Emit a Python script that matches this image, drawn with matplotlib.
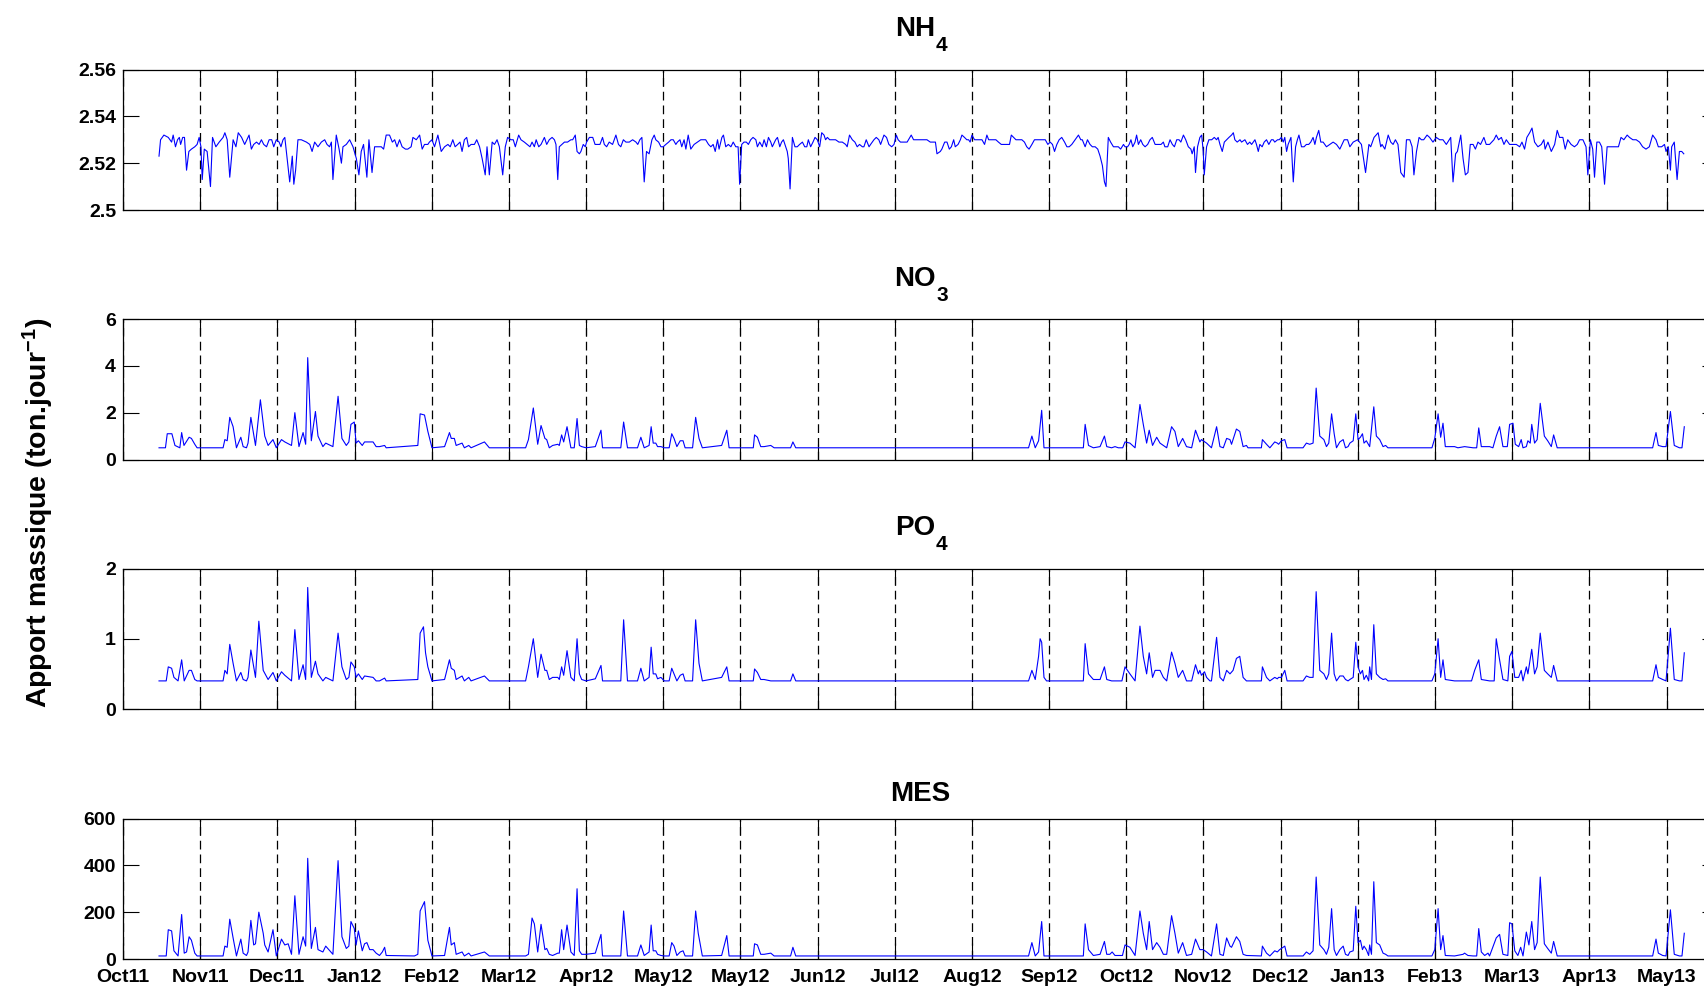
import numpy as np
import matplotlib
matplotlib.use('Agg')
import matplotlib.pyplot as plt
import matplotlib.dates as mdates
import matplotlib.ticker as mticker
from datetime import datetime

# jours comptés depuis le 04/10/2011, valeurs en ton/jour
nh4_pts = [
    (14.0, 2.523), (14.6, 2.530), (15.9, 2.532), (17.6, 2.531), (18.9, 2.529), (19.5, 2.532), (20.4, 2.527),
    (21.2, 2.530), (21.9, 2.531), (22.4, 2.528), (23.2, 2.531), (23.9, 2.531), (24.7, 2.517), (25.6, 2.525),
    (26.6, 2.526), (27.9, 2.527), (28.8, 2.528), (29.6, 2.531), (30.3, 2.527), (30.8, 2.513), (31.6, 2.526),
    (32.7, 2.525), (34.0, 2.510), (34.8, 2.531), (36.1, 2.527), (37.4, 2.529), (38.9, 2.531), (39.6, 2.533),
    (40.5, 2.530), (41.5, 2.514), (42.8, 2.530), (43.9, 2.527), (44.8, 2.533), (46.1, 2.531), (47.3, 2.528),
    (49.0, 2.532), (49.9, 2.526), (50.8, 2.528), (51.9, 2.529), (52.9, 2.528), (53.8, 2.530), (54.7, 2.528),
    (55.8, 2.527), (56.8, 2.530), (57.8, 2.530), (58.6, 2.527), (59.6, 2.530), (60.7, 2.529), (61.4, 2.527),
    (62.2, 2.530), (62.9, 2.531), (63.8, 2.522), (64.8, 2.512), (65.8, 2.523), (66.4, 2.511), (67.1, 2.517),
    (68.0, 2.530), (69.3, 2.530), (71.3, 2.529), (72.6, 2.528), (73.5, 2.525), (74.5, 2.529), (75.8, 2.527),
    (77.1, 2.529), (78.4, 2.530), (79.3, 2.528), (80.3, 2.527), (81.0, 2.529), (81.6, 2.513), (82.9, 2.532),
    (84.0, 2.526), (84.9, 2.520), (85.5, 2.527), (86.8, 2.528), (88.1, 2.530), (89.4, 2.527), (90.7, 2.522),
    (91.7, 2.515), (92.6, 2.525), (93.5, 2.528), (94.8, 2.514), (95.6, 2.530), (96.8, 2.516), (97.8, 2.527),
    (99.1, 2.527), (100.4, 2.527), (101.3, 2.526), (102.3, 2.532), (103.6, 2.532), (104.7, 2.529), (105.6, 2.530),
    (106.5, 2.527), (107.5, 2.530), (108.5, 2.527), (109.8, 2.526), (110.7, 2.526), (112.0, 2.527), (112.7, 2.531),
    (114.0, 2.530), (115.3, 2.532), (116.3, 2.526), (117.2, 2.528), (118.5, 2.528), (119.1, 2.529), (120.1, 2.530),
    (121.1, 2.527), (122.4, 2.532), (123.7, 2.525), (125.0, 2.527), (126.3, 2.528), (127.2, 2.527), (128.2, 2.530),
    (129.1, 2.527), (130.1, 2.528), (131.0, 2.529), (131.8, 2.525), (132.7, 2.530), (133.6, 2.531), (134.3, 2.527),
    (135.3, 2.528), (136.6, 2.528), (137.5, 2.530), (138.6, 2.527), (139.6, 2.522), (140.8, 2.515), (141.5, 2.527),
    (142.4, 2.515), (143.5, 2.529), (144.4, 2.528), (145.4, 2.530), (146.3, 2.527), (147.6, 2.515), (148.6, 2.527),
    (149.5, 2.531), (150.8, 2.530), (151.7, 2.530), (152.5, 2.527), (153.8, 2.532), (154.7, 2.530), (156.0, 2.529),
    (158.2, 2.527), (159.0, 2.529), (159.9, 2.527), (160.6, 2.530), (161.6, 2.527), (162.5, 2.528), (163.8, 2.531),
    (164.7, 2.528), (165.7, 2.530), (166.8, 2.531), (167.7, 2.530), (168.3, 2.528), (169.0, 2.513), (169.6, 2.527),
    (170.6, 2.528), (171.6, 2.529), (172.8, 2.529), (174.1, 2.530), (174.8, 2.530), (175.8, 2.532), (176.5, 2.525),
    (177.4, 2.524), (178.0, 2.525), (178.9, 2.528), (179.7, 2.527), (180.2, 2.529), (181.3, 2.531), (182.6, 2.531),
    (183.5, 2.528), (184.5, 2.528), (185.4, 2.528), (186.4, 2.531), (187.1, 2.528), (188.0, 2.527), (189.0, 2.529),
    (190.3, 2.528), (191.6, 2.532), (192.6, 2.528), (193.5, 2.527), (194.5, 2.530), (195.5, 2.529), (196.8, 2.529),
    (198.1, 2.530), (199.4, 2.529), (200.1, 2.528), (200.9, 2.530), (201.7, 2.531), (202.6, 2.512), (203.5, 2.525),
    (204.5, 2.524), (205.6, 2.530), (206.5, 2.532), (207.1, 2.530), (208.2, 2.529), (209.1, 2.527), (210.0, 2.527),
    (211.0, 2.528), (212.1, 2.529), (213.0, 2.530), (213.9, 2.530), (214.9, 2.528), (215.5, 2.529), (216.5, 2.530),
    (217.2, 2.527), (218.1, 2.530), (218.8, 2.526), (219.7, 2.532), (220.7, 2.526), (222.0, 2.528), (223.3, 2.529),
    (224.6, 2.530), (225.6, 2.530), (226.5, 2.530), (227.6, 2.528), (228.5, 2.527), (229.4, 2.528), (230.2, 2.525),
    (231.1, 2.530), (231.7, 2.526), (232.8, 2.531), (233.4, 2.532), (234.3, 2.527), (235.3, 2.528), (236.3, 2.527),
    (237.2, 2.529), (238.2, 2.527), (239.1, 2.527), (239.7, 2.511), (240.5, 2.528), (241.4, 2.529), (242.3, 2.529),
    (243.1, 2.528), (244.0, 2.530), (244.9, 2.531), (246.0, 2.530), (246.6, 2.527), (247.5, 2.529), (248.5, 2.527),
    (249.2, 2.530), (250.1, 2.527), (250.9, 2.531), (251.8, 2.529), (252.4, 2.527), (253.7, 2.530), (254.4, 2.531),
    (255.3, 2.527), (256.0, 2.529), (256.7, 2.530), (257.6, 2.527), (258.2, 2.525), (258.6, 2.522), (259.3, 2.509),
    (260.2, 2.531), (261.2, 2.527), (262.1, 2.527), (263.0, 2.528), (264.1, 2.529), (265.0, 2.527), (265.8, 2.527),
    (266.4, 2.530), (267.3, 2.527), (268.2, 2.529), (269.0, 2.531), (269.9, 2.530), (270.8, 2.527), (271.6, 2.533),
    (272.5, 2.532), (273.1, 2.530), (273.8, 2.531), (274.7, 2.530), (275.7, 2.530), (277.0, 2.530), (278.3, 2.529),
    (279.6, 2.529), (280.9, 2.528), (281.5, 2.527), (282.4, 2.532), (283.5, 2.530), (284.5, 2.529), (285.4, 2.527),
    (286.3, 2.528), (287.4, 2.527), (288.0, 2.527), (288.9, 2.530), (290.0, 2.527), (290.6, 2.528), (291.9, 2.530),
    (292.8, 2.531), (293.8, 2.530), (294.5, 2.528), (295.8, 2.532), (296.8, 2.531), (297.7, 2.528), (298.8, 2.527),
    (299.7, 2.528), (300.6, 2.532), (301.3, 2.530), (302.2, 2.529), (303.5, 2.529), (304.8, 2.529), (306.4, 2.532),
    (307.3, 2.530), (308.6, 2.530), (309.9, 2.530), (311.2, 2.530), (312.5, 2.530), (313.8, 2.529), (315.1, 2.529),
    (315.8, 2.529), (316.4, 2.524), (317.7, 2.525), (318.3, 2.526), (319.4, 2.529), (320.3, 2.529), (321.2, 2.526),
    (322.0, 2.527), (322.9, 2.530), (323.5, 2.527), (324.6, 2.528), (325.5, 2.530), (326.1, 2.532), (327.1, 2.531),
    (328.0, 2.530), (328.7, 2.530), (329.3, 2.529), (330.0, 2.532), (331.0, 2.530), (331.9, 2.530), (332.8, 2.530),
    (333.9, 2.530), (334.9, 2.528), (335.8, 2.532), (336.5, 2.530), (337.5, 2.530), (338.4, 2.530), (339.3, 2.530),
    (340.3, 2.529), (341.4, 2.528), (342.3, 2.528), (343.6, 2.528), (344.6, 2.528), (345.3, 2.532), (346.2, 2.531),
    (347.1, 2.530), (348.1, 2.530), (349.4, 2.530), (350.4, 2.529), (351.3, 2.527), (352.2, 2.526), (353.3, 2.528),
    (354.3, 2.530), (355.2, 2.530), (356.1, 2.530), (357.2, 2.530), (358.5, 2.530), (359.5, 2.528), (360.4, 2.529),
    (361.3, 2.528), (362.1, 2.525), (363.0, 2.528), (363.9, 2.530), (364.9, 2.531), (366.0, 2.529), (366.9, 2.527),
    (367.8, 2.527), (368.8, 2.528), (370.1, 2.530), (371.4, 2.532), (372.3, 2.530), (372.9, 2.530), (374.0, 2.527),
    (374.9, 2.530), (375.9, 2.528), (376.8, 2.527), (377.9, 2.527), (378.9, 2.526), (379.8, 2.523), (380.7, 2.519),
    (381.5, 2.512), (382.1, 2.510), (383.0, 2.531), (383.9, 2.529), (385.0, 2.527), (385.9, 2.527), (386.9, 2.527),
    (387.8, 2.526), (388.9, 2.528), (389.5, 2.527), (390.5, 2.527), (391.1, 2.528), (391.8, 2.530), (392.5, 2.527),
    (393.4, 2.529), (394.0, 2.532), (394.7, 2.528), (395.6, 2.530), (396.4, 2.528), (397.3, 2.527), (398.3, 2.528),
    (399.2, 2.530), (400.1, 2.531), (401.2, 2.528), (402.5, 2.528), (403.5, 2.528), (404.4, 2.529), (405.0, 2.527),
    (406.1, 2.527), (407.0, 2.530), (407.9, 2.528), (408.7, 2.527), (409.6, 2.530), (410.5, 2.530), (411.2, 2.529),
    (412.2, 2.532), (413.1, 2.530), (414.1, 2.527), (415.1, 2.526), (415.6, 2.524), (416.4, 2.527), (416.9, 2.516),
    (417.7, 2.527), (418.6, 2.531), (419.3, 2.532), (419.9, 2.525), (420.3, 2.515), (421.2, 2.527), (422.1, 2.530),
    (423.2, 2.530), (424.2, 2.531), (425.1, 2.530), (425.7, 2.531), (426.4, 2.528), (427.3, 2.525), (428.1, 2.529),
    (429.0, 2.530), (429.9, 2.531), (430.9, 2.532), (431.6, 2.533), (432.2, 2.530), (433.1, 2.529), (434.2, 2.530),
    (434.8, 2.529), (436.1, 2.530), (437.1, 2.528), (438.0, 2.529), (438.7, 2.528), (440.0, 2.530), (440.6, 2.528),
    (441.3, 2.525), (441.9, 2.528), (442.8, 2.527), (443.6, 2.529), (444.5, 2.530), (445.4, 2.528), (446.4, 2.530),
    (447.1, 2.530), (447.7, 2.529), (448.8, 2.530), (449.4, 2.530), (450.3, 2.531), (451.0, 2.529), (451.6, 2.531),
    (452.3, 2.525), (452.9, 2.528), (454.0, 2.531), (454.9, 2.512), (455.8, 2.527), (456.5, 2.530), (457.1, 2.532),
    (458.1, 2.527), (459.1, 2.527), (460.0, 2.528), (460.9, 2.528), (461.7, 2.529), (462.6, 2.531), (463.3, 2.528),
    (463.9, 2.531), (464.8, 2.534), (465.6, 2.529), (466.5, 2.529), (467.8, 2.527), (470.4, 2.529), (471.7, 2.528),
    (473.0, 2.526), (474.7, 2.530), (476.0, 2.530), (476.9, 2.527), (478.2, 2.529), (479.9, 2.530), (481.4, 2.528),
    (483.0, 2.516), (484.3, 2.528), (485.0, 2.527), (486.3, 2.531), (487.9, 2.533), (488.9, 2.527), (489.4, 2.528),
    (490.5, 2.526), (491.8, 2.532), (492.8, 2.529), (493.7, 2.528), (494.6, 2.530), (495.6, 2.528), (496.7, 2.516),
    (498.0, 2.514), (498.9, 2.530), (500.2, 2.530), (501.1, 2.527), (501.8, 2.515), (502.8, 2.525), (503.8, 2.531),
    (504.7, 2.530), (505.6, 2.530), (506.9, 2.532), (507.9, 2.531), (509.2, 2.529), (510.5, 2.531), (511.8, 2.530),
    (513.1, 2.530), (514.4, 2.528), (516.1, 2.531), (517.0, 2.512), (518.0, 2.524), (518.7, 2.525), (520.0, 2.532),
    (520.9, 2.522), (521.8, 2.515), (522.8, 2.516), (523.7, 2.528), (524.8, 2.528), (525.7, 2.526), (526.7, 2.529),
    (527.7, 2.528), (529.0, 2.531), (529.9, 2.528), (531.2, 2.528), (532.9, 2.530), (533.8, 2.532), (534.7, 2.530),
    (535.8, 2.531), (536.8, 2.528), (537.7, 2.530), (539.0, 2.528), (540.3, 2.528), (541.6, 2.528), (542.9, 2.527),
    (543.8, 2.529), (544.8, 2.526), (545.7, 2.531), (546.8, 2.533), (547.7, 2.535), (548.7, 2.529), (550.0, 2.527),
    (551.3, 2.528), (552.3, 2.530), (552.8, 2.526), (553.9, 2.529), (555.2, 2.525), (556.5, 2.528), (557.5, 2.534),
    (558.4, 2.531), (559.7, 2.531), (560.6, 2.526), (561.6, 2.530), (562.9, 2.528), (564.2, 2.527), (565.3, 2.528),
    (566.2, 2.530), (567.5, 2.530), (568.7, 2.527), (569.4, 2.515), (570.4, 2.530), (571.3, 2.526), (572.0, 2.514),
    (572.9, 2.529), (573.9, 2.529), (574.8, 2.527), (575.9, 2.511), (576.9, 2.527), (577.8, 2.527), (579.1, 2.527),
    (580.4, 2.527), (581.3, 2.527), (582.3, 2.531), (583.4, 2.530), (584.7, 2.532), (585.6, 2.531), (586.9, 2.530),
    (588.2, 2.530), (589.5, 2.529), (590.7, 2.527), (592.0, 2.526), (593.3, 2.527), (594.6, 2.532), (595.9, 2.530),
    (596.8, 2.527), (598.1, 2.527), (599.2, 2.528), (599.8, 2.525), (600.7, 2.527), (601.5, 2.517), (602.0, 2.527),
    (603.0, 2.529), (604.1, 2.513), (605.0, 2.525), (605.9, 2.525), (606.7, 2.524),
]

no3_pts = [
    (14.0, 0.5), (16.5, 0.5), (17.2, 1.1), (19.0, 1.1), (20.2, 0.6), (22.1, 0.5), (22.8, 1.15), (23.7, 0.6),
    (25.7, 0.95), (26.6, 0.9), (27.9, 0.65), (28.8, 0.5), (38.9, 0.5), (39.6, 0.85), (40.5, 0.8), (41.5, 1.8),
    (42.8, 1.4), (44.1, 0.5), (45.8, 0.95), (46.7, 0.55), (48.0, 0.5), (48.6, 0.7), (49.7, 1.8), (51.5, 0.6),
    (53.4, 2.55), (55.1, 1.0), (56.4, 0.6), (58.3, 0.85), (59.6, 0.5), (61.6, 0.85), (62.9, 0.75), (65.5, 0.6),
    (66.8, 2.0), (68.4, 0.55), (70.0, 1.15), (71.0, 0.65), (71.8, 4.35), (73.2, 0.8), (74.8, 2.05), (75.8, 1.0),
    (77.7, 0.55), (78.8, 0.7), (81.6, 0.55), (83.6, 2.7), (85.1, 0.9), (86.8, 0.6), (87.8, 0.75), (88.6, 1.5),
    (89.9, 1.6), (90.6, 0.7), (91.5, 0.8), (93.0, 0.6), (93.9, 0.75), (97.2, 0.75), (98.4, 0.55), (99.7, 0.55),
    (101.7, 0.6), (102.3, 0.5), (114.6, 0.6), (115.5, 1.95), (117.2, 1.9), (118.5, 1.2), (120.1, 0.5),
    (125.0, 0.55), (126.9, 1.15), (127.6, 0.9), (128.8, 0.9), (129.5, 0.6), (131.8, 0.7), (132.7, 0.5),
    (134.4, 0.6), (135.3, 0.5), (140.5, 0.75), (142.4, 0.5), (156.5, 0.5), (157.6, 0.85), (159.5, 2.2),
    (161.2, 0.65), (162.5, 1.45), (164.0, 0.9), (164.7, 0.85), (165.7, 0.5), (167.0, 0.6), (169.0, 0.65),
    (169.6, 0.6), (170.5, 1.05), (171.3, 0.75), (172.6, 1.4), (174.1, 0.5), (175.4, 0.5), (176.5, 1.75),
    (177.4, 0.6), (178.3, 0.55), (180.0, 0.5), (183.6, 0.55), (185.8, 1.25), (186.4, 0.5), (193.5, 0.5),
    (194.6, 1.6), (196.1, 0.5), (200.0, 0.5), (201.3, 0.95), (202.6, 0.5), (204.5, 0.6), (205.3, 1.4),
    (206.1, 0.7), (207.1, 0.7), (207.8, 0.55), (209.1, 0.55), (210.4, 0.5), (212.3, 0.5), (213.3, 1.1),
    (214.2, 0.9), (215.3, 0.55), (216.6, 0.8), (217.7, 0.8), (218.5, 0.5), (221.4, 0.5), (222.6, 1.8),
    (223.9, 0.9), (225.2, 0.5), (232.7, 0.6), (234.7, 1.25), (235.6, 0.5), (245.0, 0.5), (245.5, 1.05),
    (246.6, 0.95), (247.9, 0.55), (249.2, 0.55), (251.8, 0.6), (253.1, 0.5), (259.5, 0.5), (260.4, 0.75),
    (261.5, 0.5), (352.0, 0.5), (353.3, 1.0), (354.6, 0.5), (355.9, 0.8), (357.1, 2.1), (358.0, 0.5),
    (373.3, 0.5), (374.0, 1.5), (375.3, 0.6), (377.2, 0.5), (379.8, 0.55), (381.5, 1.0), (382.4, 0.55),
    (384.3, 0.5), (385.6, 0.55), (386.9, 0.5), (388.6, 0.5), (389.5, 0.75), (391.4, 0.7), (393.4, 0.5),
    (395.3, 2.35), (396.6, 1.5), (397.9, 0.7), (398.9, 1.25), (400.2, 0.6), (401.8, 0.95), (403.1, 0.7),
    (404.4, 0.6), (405.7, 0.5), (407.6, 1.4), (408.9, 1.2), (410.2, 0.55), (411.9, 0.9), (413.4, 0.55),
    (415.4, 0.5), (416.9, 1.25), (418.6, 0.75), (419.2, 0.85), (421.2, 0.7), (423.1, 0.5), (425.1, 1.4),
    (426.4, 0.55), (427.7, 0.5), (429.0, 0.9), (430.3, 0.85), (430.9, 0.65), (432.8, 1.3), (434.1, 1.2),
    (435.4, 0.55), (436.7, 0.6), (437.3, 0.5), (442.5, 0.5), (442.9, 0.85), (444.5, 0.65), (445.8, 0.5),
    (447.7, 0.75), (448.7, 0.7), (449.2, 0.65), (450.3, 0.8), (451.6, 0.85), (452.5, 0.5), (458.7, 0.5),
    (460.0, 0.7), (461.3, 0.65), (462.6, 0.7), (463.8, 3.05), (465.2, 1.0), (466.8, 0.85), (467.8, 0.55),
    (468.7, 0.7), (469.8, 1.95), (470.8, 1.1), (471.7, 0.5), (473.0, 0.75), (474.3, 0.85), (475.2, 0.5),
    (476.2, 0.55), (476.9, 0.7), (478.2, 0.8), (479.2, 1.95), (480.1, 0.85), (481.0, 0.95), (481.8, 1.1),
    (482.4, 0.7), (483.3, 0.8), (484.6, 0.55), (486.2, 2.25), (487.2, 1.0), (488.5, 0.85), (489.8, 0.55),
    (490.8, 0.6), (491.7, 0.5), (508.8, 0.5), (509.9, 0.9), (511.2, 1.95), (512.2, 0.95), (513.1, 1.55),
    (514.0, 0.55), (517.6, 0.55), (518.9, 0.5), (521.5, 0.55), (524.8, 0.5), (526.2, 0.5), (527.0, 1.35),
    (528.0, 0.55), (531.2, 0.55), (532.5, 0.5), (533.8, 1.0), (535.1, 1.4), (536.4, 0.55), (538.1, 0.55),
    (539.0, 1.5), (540.3, 1.55), (541.2, 0.65), (542.5, 0.55), (543.5, 0.85), (544.2, 0.5), (545.5, 0.55),
    (546.1, 0.8), (547.0, 0.7), (547.6, 1.5), (548.7, 0.7), (549.7, 0.85), (550.9, 2.4), (552.5, 1.0),
    (553.8, 0.8), (555.2, 0.55), (556.1, 1.05), (557.5, 0.5), (594.6, 0.5), (595.9, 1.15), (596.8, 0.6),
    (598.5, 0.55), (599.8, 0.55), (601.5, 2.05), (603.0, 0.6), (605.0, 0.5), (606.0, 0.5), (606.9, 1.4),
]

po4_pts = [
    (14.0, 0.4), (16.8, 0.4), (17.6, 0.6), (18.9, 0.58), (19.8, 0.45), (21.4, 0.4), (22.8, 0.7), (23.8, 0.4),
    (25.7, 0.55), (26.6, 0.55), (27.9, 0.42), (28.8, 0.4), (38.9, 0.4), (39.6, 0.55), (40.5, 0.5), (41.5, 0.92),
    (42.8, 0.65), (44.1, 0.4), (45.8, 0.52), (46.7, 0.42), (48.0, 0.4), (48.6, 0.45), (49.7, 0.84), (51.5, 0.45),
    (52.8, 1.25), (54.5, 0.55), (56.4, 0.42), (58.3, 0.52), (59.6, 0.4), (61.6, 0.53), (62.9, 0.48), (65.5, 0.4),
    (66.8, 1.13), (68.4, 0.42), (70.0, 0.63), (71.0, 0.42), (71.8, 1.73), (73.2, 0.45), (74.8, 0.68), (75.8, 0.5),
    (77.7, 0.4), (78.8, 0.45), (81.6, 0.4), (83.6, 1.08), (85.1, 0.6), (86.8, 0.42), (87.8, 0.45), (88.6, 0.67),
    (89.9, 0.6), (90.6, 0.45), (91.5, 0.5), (93.0, 0.42), (93.9, 0.47), (97.2, 0.45), (98.4, 0.4), (99.7, 0.4),
    (101.7, 0.44), (102.3, 0.4), (114.6, 0.42), (115.5, 1.08), (116.8, 1.17), (117.6, 0.8), (118.5, 0.6),
    (120.1, 0.4), (125.0, 0.42), (126.9, 0.7), (127.6, 0.58), (128.8, 0.55), (129.5, 0.42), (131.8, 0.47),
    (132.7, 0.4), (134.4, 0.45), (135.3, 0.4), (140.5, 0.47), (142.4, 0.4), (156.5, 0.4), (157.6, 0.6),
    (159.5, 1.0), (161.2, 0.45), (162.5, 0.78), (164.0, 0.55), (164.7, 0.55), (165.7, 0.42), (167.0, 0.45),
    (169.0, 0.45), (169.6, 0.42), (170.5, 0.6), (171.3, 0.48), (172.6, 0.83), (174.1, 0.45), (175.4, 0.4),
    (176.5, 1.0), (177.4, 0.5), (178.3, 0.42), (180.0, 0.4), (183.6, 0.43), (185.8, 0.62), (186.4, 0.4),
    (193.5, 0.4), (194.6, 1.27), (196.1, 0.4), (200.0, 0.4), (201.3, 0.58), (202.6, 0.4), (204.5, 0.45),
    (205.3, 0.88), (206.1, 0.5), (207.1, 0.5), (207.8, 0.43), (209.1, 0.45), (210.4, 0.4), (212.3, 0.4),
    (213.3, 0.58), (214.2, 0.5), (215.3, 0.4), (216.6, 0.48), (217.7, 0.5), (218.5, 0.4), (221.4, 0.4),
    (222.6, 1.27), (223.9, 0.65), (225.2, 0.4), (232.7, 0.45), (234.7, 0.6), (235.6, 0.4), (245.0, 0.4),
    (245.5, 0.57), (246.6, 0.52), (247.9, 0.42), (249.2, 0.42), (251.8, 0.4), (259.5, 0.4), (260.4, 0.5),
    (261.5, 0.4), (352.0, 0.4), (353.3, 0.55), (354.6, 0.42), (355.9, 0.75), (356.5, 1.0), (357.1, 0.95),
    (358.0, 0.45), (359.0, 0.4), (373.3, 0.4), (374.0, 0.93), (375.3, 0.5), (377.2, 0.42), (379.8, 0.42),
    (381.5, 0.6), (382.4, 0.42), (384.3, 0.4), (388.3, 0.4), (389.5, 0.6), (391.4, 0.5), (393.4, 0.4),
    (395.3, 1.18), (396.6, 0.75), (397.9, 0.5), (398.9, 0.8), (400.2, 0.45), (401.2, 0.55), (401.8, 0.55),
    (403.1, 0.55), (404.4, 0.45), (405.7, 0.4), (407.6, 0.81), (408.9, 0.65), (410.2, 0.45), (411.9, 0.55),
    (413.4, 0.4), (415.4, 0.4), (416.9, 0.63), (418.0, 0.5), (418.6, 0.55), (419.2, 0.48), (420.4, 0.53),
    (421.2, 0.45), (422.5, 0.4), (423.1, 0.4), (425.1, 1.02), (426.4, 0.45), (427.7, 0.4), (429.0, 0.55),
    (430.3, 0.5), (431.5, 0.55), (432.8, 0.72), (434.1, 0.75), (435.4, 0.45), (436.7, 0.4), (442.5, 0.4),
    (442.9, 0.6), (444.5, 0.45), (445.8, 0.4), (447.7, 0.45), (448.7, 0.43), (449.2, 0.45), (450.3, 0.45),
    (451.6, 0.55), (452.5, 0.4), (458.7, 0.4), (460.0, 0.47), (461.3, 0.45), (462.6, 0.45), (463.8, 1.67),
    (465.2, 0.55), (466.8, 0.5), (467.8, 0.42), (468.7, 0.5), (469.8, 1.08), (470.8, 0.5), (471.7, 0.4),
    (473.0, 0.47), (474.3, 0.47), (475.2, 0.42), (476.2, 0.4), (476.9, 0.42), (478.2, 0.45), (479.2, 0.95),
    (480.1, 0.6), (481.0, 0.5), (481.8, 0.55), (482.4, 0.42), (483.3, 0.48), (484.2, 0.4), (484.6, 0.6),
    (485.3, 0.42), (486.2, 1.2), (487.2, 0.5), (488.5, 0.45), (489.8, 0.42), (490.8, 0.43), (491.7, 0.4),
    (508.8, 0.4), (509.9, 0.5), (511.2, 1.0), (512.2, 0.45), (513.1, 0.7), (514.0, 0.42), (517.6, 0.4),
    (524.2, 0.4), (525.4, 0.55), (527.0, 0.7), (528.0, 0.42), (531.2, 0.4), (533.0, 0.4), (533.8, 1.0),
    (535.1, 0.7), (536.4, 0.42), (538.3, 0.4), (539.0, 0.75), (539.9, 0.82), (541.0, 0.45), (542.5, 0.45),
    (543.5, 0.55), (544.2, 0.4), (545.5, 0.6), (546.1, 0.5), (547.6, 0.85), (548.7, 0.5), (549.7, 0.6),
    (550.9, 1.08), (552.5, 0.55), (553.8, 0.5), (555.2, 0.45), (556.1, 0.62), (557.5, 0.4), (594.6, 0.4),
    (595.9, 0.63), (596.8, 0.45), (598.5, 0.42), (599.8, 0.4), (601.5, 1.15), (603.0, 0.42), (605.0, 0.4),
    (606.0, 0.4), (606.9, 0.8),
]

mes_pts = [
    (14.0, 13), (16.8, 13), (17.6, 125), (18.9, 120), (19.8, 35), (21.4, 13), (22.8, 190), (23.8, 25),
    (24.7, 30), (25.7, 95), (26.6, 80), (27.9, 25), (28.8, 13), (38.9, 13), (39.6, 55), (40.5, 50),
    (41.5, 170), (42.8, 90), (44.1, 13), (45.8, 85), (46.7, 25), (48.0, 15), (48.6, 30), (49.7, 165),
    (50.8, 60), (51.5, 65), (52.8, 200), (54.5, 110), (55.1, 60), (56.4, 30), (58.3, 125), (59.6, 13),
    (61.6, 85), (62.9, 60), (64.2, 65), (65.5, 20), (66.8, 270), (68.4, 20), (70.0, 95), (71.0, 55),
    (71.8, 430), (73.2, 45), (74.8, 135), (75.8, 40), (77.7, 30), (78.8, 55), (81.6, 20), (83.6, 420),
    (85.1, 95), (86.8, 45), (87.8, 55), (88.6, 160), (89.9, 130), (90.6, 60), (91.5, 120), (93.0, 35),
    (93.9, 65), (94.8, 70), (95.9, 40), (97.2, 40), (98.4, 25), (99.7, 15), (100.8, 30), (101.7, 50),
    (102.3, 15), (113.3, 13), (114.6, 20), (115.5, 205), (117.2, 245), (118.5, 80), (120.1, 13), (125.0, 15),
    (126.9, 135), (127.6, 60), (128.8, 70), (129.5, 20), (131.8, 30), (132.7, 13), (134.4, 25), (135.3, 13),
    (140.5, 30), (142.4, 13), (156.5, 13), (157.6, 20), (159.0, 175), (159.9, 150), (161.2, 30), (162.5, 148),
    (164.0, 40), (164.7, 45), (165.7, 20), (167.0, 15), (169.0, 25), (169.6, 25), (170.5, 125), (171.3, 40),
    (172.6, 145), (174.1, 30), (175.4, 15), (176.5, 300), (177.4, 35), (178.3, 20), (180.0, 20), (183.6, 25),
    (185.8, 105), (186.4, 13), (193.5, 13), (194.6, 205), (196.1, 13), (200.0, 13), (201.3, 60), (202.6, 15),
    (204.5, 30), (205.3, 145), (206.1, 35), (207.1, 35), (207.8, 20), (209.1, 15), (210.4, 13), (212.3, 13),
    (213.3, 70), (214.2, 55), (215.3, 15), (216.6, 30), (217.7, 35), (218.5, 13), (221.4, 13), (222.6, 205),
    (223.6, 110), (225.2, 13), (232.7, 15), (234.7, 100), (235.6, 13), (245.0, 13), (245.5, 65), (246.6, 60),
    (247.9, 20), (249.2, 20), (251.8, 25), (253.1, 13), (259.5, 13), (260.4, 50), (261.5, 13), (352.0, 13),
    (353.3, 70), (354.6, 13), (355.9, 30), (357.1, 160), (358.0, 13), (373.3, 13), (374.0, 150), (375.3, 40),
    (377.2, 15), (379.8, 20), (381.5, 75), (382.4, 20), (383.6, 20), (384.5, 30), (385.6, 15), (386.9, 15),
    (388.5, 15), (389.5, 60), (391.4, 50), (393.4, 15), (395.3, 205), (396.6, 110), (397.9, 40), (398.9, 160),
    (400.2, 40), (401.8, 70), (403.1, 50), (404.4, 20), (405.7, 20), (407.6, 185), (408.9, 110), (410.2, 25),
    (411.9, 70), (413.4, 15), (415.4, 20), (416.9, 85), (418.6, 40), (419.9, 40), (421.2, 30), (423.1, 13),
    (425.1, 150), (426.4, 20), (427.7, 15), (429.0, 90), (430.3, 55), (430.9, 50), (432.8, 95), (434.1, 75),
    (435.4, 20), (436.7, 15), (442.5, 13), (442.9, 55), (444.5, 25), (445.8, 13), (447.7, 35), (448.7, 30),
    (449.6, 40), (451.6, 55), (452.5, 13), (458.7, 13), (460.0, 30), (461.3, 20), (462.6, 35), (463.8, 350),
    (465.2, 60), (466.8, 40), (467.8, 20), (468.7, 50), (469.8, 215), (470.8, 40), (471.7, 15), (473.0, 40),
    (474.3, 55), (475.2, 20), (476.2, 15), (476.9, 30), (478.2, 35), (479.2, 225), (480.1, 70), (481.0, 80),
    (481.8, 40), (482.4, 55), (483.3, 40), (484.2, 15), (484.6, 60), (485.3, 20), (486.2, 330), (487.2, 70),
    (488.5, 60), (489.8, 25), (490.8, 20), (491.7, 13), (508.8, 13), (509.9, 40), (511.2, 215), (512.2, 40),
    (513.1, 100), (514.0, 15), (517.6, 13), (520.9, 20), (521.5, 25), (522.8, 15), (524.8, 13), (526.2, 13),
    (527.0, 130), (528.0, 30), (529.3, 15), (530.6, 25), (531.2, 13), (533.8, 90), (535.1, 105), (536.4, 20),
    (538.3, 15), (539.0, 155), (539.9, 150), (541.0, 35), (542.2, 15), (543.3, 50), (544.2, 13), (545.5, 115),
    (546.5, 60), (547.6, 160), (548.7, 40), (549.7, 70), (550.9, 350), (552.5, 65), (553.8, 45), (555.2, 25),
    (556.1, 75), (557.5, 13), (594.6, 13), (595.9, 85), (596.8, 25), (598.5, 15), (599.8, 13), (601.5, 210),
    (603.0, 20), (605.0, 13), (606.0, 13), (606.9, 110),
]

titles = [('NH', '4'), ('NO', '3'), ('PO', '4'), ('MES', '')]
series = [nh4_pts, no3_pts, po4_pts, mes_pts]
ylims = [(2.5, 2.56), (0, 6), (0, 2), (0, 600)]
yticks = [[2.5, 2.52, 2.54, 2.56], [0, 2, 4, 6], [0, 1, 2], [0, 200, 400, 600]]

plt.rcParams['font.family'] = ['Liberation Sans', 'DejaVu Sans']
plt.rcParams['font.weight'] = 'bold'
plt.rcParams['mathtext.fontset'] = 'custom'
plt.rcParams['mathtext.rm'] = 'Liberation Sans:bold'
plt.rcParams['mathtext.it'] = 'Liberation Sans:bold'
plt.rcParams['mathtext.bf'] = 'Liberation Sans:bold'
plt.rcParams['mathtext.default'] = 'rm'

t0 = mdates.date2num(datetime(2011, 10, 4))
W, H = 1704.0, 990.0
left, right = 123 / W, 1718 / W
tops = [69.5, 319.0, 568.5, 818.5]
h = 140.5

fig = plt.figure(figsize=(W / 100, H / 100), dpi=100)
for i in range(4):
    ax = fig.add_axes([left, 1 - (tops[i] + h) / H, right - left, h / H])
    d = np.array([p[0] for p in series[i]])
    v = np.array([p[1] for p in series[i]])
    ax.plot(t0 + d, v, color='b', lw=0.8)
    ax.set_xlim(t0, t0 + 620)
    ax.set_ylim(ylims[i])
    ax.set_yticks(yticks[i])
    ax.yaxis.set_major_formatter(mticker.FormatStrFormatter('%g'))
    ax.set_xticks(t0 + 30 * np.arange(21))
    ax.xaxis.set_major_formatter(mdates.DateFormatter('%b%y'))
    ax.grid(axis='x', color='k', linestyle=(0, (7, 4)), linewidth=0.9)
    ax.tick_params(direction='in', length=11.4, width=0.8, top=True, right=True,
                   labelsize=14, pad=5)
    ax.tick_params(axis='x', pad=7.4)
    if i < 3:
        ax.tick_params(labelbottom=False)
    for s in ax.spines.values():
        s.set_linewidth(0.9)

    # titre façon matlab : l'indice est bien descendu, le bas du texte reste à la même hauteur
    name, sub = titles[i]
    if sub:
        main = ax.annotate(name, xy=(0.5, 1), xycoords='axes fraction', xytext=(-4, 24),
                           textcoords='offset points', ha='center', va='baseline',
                           fontsize=20, fontweight='bold')
        ax.annotate(sub, xy=(1, 0), xycoords=main, xytext=(0.7, -6.6),
                    textcoords='offset points', ha='left', va='baseline',
                    fontsize=15, fontweight='bold')
    else:
        ax.annotate(name, xy=(0.5, 1), xycoords='axes fraction', xytext=(0, 12.6),
                    textcoords='offset points', ha='center', va='baseline',
                    fontsize=20, fontweight='bold')

fig.text(38 / W, 1 - 513 / H, r'Apport massique (ton.jour$^{-1}$)', rotation=90,
         fontsize=20.5, fontweight='bold', ha='center', va='center')

fig.savefig('out.png', dpi=100)
